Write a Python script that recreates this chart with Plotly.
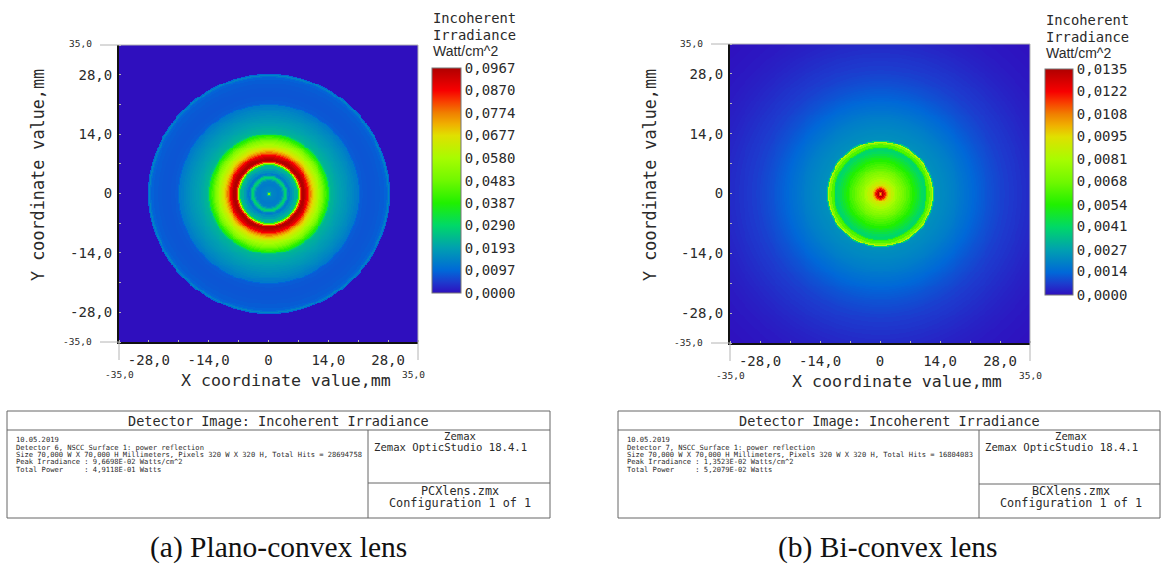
import numpy as np
import plotly.graph_objects as go

# ---- data -----------------------------------------------------------------
# Radial irradiance tables: each value holds out to the listed radius (mm), W/cm^2
PCX_RADIUS = [0.25, 0.5, 0.75, 1.0, 1.5, 2.0, 2.5, 3.0, 3.25, 3.5, 3.75, 4.0, 4.25, 4.5, 4.75, 5.0,
              5.5, 6.0, 6.5, 6.75, 7.0, 7.25, 7.5, 7.75, 8.0, 8.25, 8.5, 8.75, 9.0, 9.25, 9.5, 9.75,
              10.0, 10.25, 10.5, 10.75, 11.0, 11.25, 11.5, 11.75, 12.0, 12.25, 12.5, 12.75, 13.0,
              13.25, 13.5, 13.75, 14.0, 14.25, 14.5, 15.0, 15.5, 16.0, 16.5, 17.0, 17.5, 18.0, 18.5,
              19.0, 19.5, 20.0, 20.5, 21.0, 21.25, 22.0, 23.0, 24.0, 25.0, 26.0, 27.0, 27.5, 27.75,
              28.0, 28.25, 60.0]
PCX_IRRADIANCE = [0.0520, 0.0240, 0.0150, 0.0145, 0.0140, 0.0135, 0.0130, 0.0135, 0.0160, 0.0210,
                  0.0270, 0.0280, 0.0230, 0.0150, 0.0125, 0.0140, 0.0165, 0.0190, 0.0225, 0.0250,
                  0.0420, 0.0610, 0.0820, 0.0930, 0.0965, 0.0967, 0.0950, 0.0930, 0.0900, 0.0870,
                  0.0825, 0.0780, 0.0745, 0.0710, 0.0685, 0.0660, 0.0640, 0.0620, 0.0600, 0.0580,
                  0.0560, 0.0540, 0.0520, 0.0495, 0.0465, 0.0440, 0.0410, 0.0380, 0.0350, 0.0260,
                  0.0235, 0.0225, 0.0215, 0.0207, 0.0199, 0.0192, 0.0185, 0.0178, 0.0171, 0.0163,
                  0.0155, 0.0147, 0.0137, 0.0127, 0.0096, 0.0082, 0.0078, 0.0076, 0.0077, 0.0079,
                  0.0084, 0.0090, 0.0110, 0.0145, 0.0100, 0.0]
BCX_RADIUS = [0.25, 0.5, 0.75, 1.0, 1.25, 1.5, 1.75, 2.0, 2.5, 3.0, 3.5, 4.0, 4.5, 5.0, 5.5, 6.0, 6.5,
              7.0, 7.5, 8.0, 8.5, 9.0, 9.5, 10.0, 10.5, 10.75, 11.0, 11.5, 12.0, 12.25, 12.5, 12.75,
              13.0, 13.5, 14.0, 14.5, 15.0, 15.5, 16.0, 16.5, 17.0, 17.5, 18.0, 18.5, 19.0, 19.5,
              20.0, 20.5, 21.0, 21.5, 22.0, 22.5, 23.0, 23.5, 24.0, 24.5, 25.0, 25.5, 26.0, 26.5,
              27.0, 27.5, 28.0, 29.0, 30.0, 31.0, 32.0, 33.0, 34.0, 35.0, 36.0, 37.0, 38.0, 39.0,
              40.0, 41.0, 43.0, 45.0, 47.0, 60.0]
BCX_IRRADIANCE = [0.0098, 0.0115, 0.0135, 0.0128, 0.0118, 0.0108, 0.0100, 0.0094, 0.0090, 0.0086,
                  0.0082, 0.0078, 0.0075, 0.0072, 0.0069, 0.0066, 0.0063, 0.0060, 0.0057, 0.0054,
                  0.0051, 0.0048, 0.0045, 0.0042, 0.0040, 0.0043, 0.0058, 0.0062, 0.0070, 0.0085,
                  0.0040, 0.0024, 0.0023, 0.00226, 0.00222, 0.00218, 0.00214, 0.0021, 0.00205,
                  0.0020, 0.00195, 0.0019, 0.00185, 0.00178, 0.00172, 0.00166, 0.0016, 0.00154,
                  0.00148, 0.00142, 0.00136, 0.0013, 0.00125, 0.0012, 0.00115, 0.0011, 0.00105,
                  0.0010, 0.00096, 0.00092, 0.00088, 0.00084, 0.0008, 0.00074, 0.00068, 0.00062,
                  0.00057, 0.00052, 0.00047, 0.00042, 0.00037, 0.00033, 0.00029, 0.00025, 0.00022,
                  0.00019, 0.00015, 0.00011, 0.00008, 0.00005]

AXIS_TICKS = [-28, -14, 0, 14, 28]
AXIS_TICK_LABELS = ["-28,0", "-14,0", "0", "14,0", "28,0"]
MINOR_TICKS = [-35, -28, -21, -14, -7, 0, 7, 14, 21, 28, 35]

PCX_CBAR_VALUES = [0.0, 0.0097, 0.0193, 0.0290, 0.0387, 0.0483, 0.0580, 0.0677, 0.0774, 0.0870, 0.0967]
PCX_CBAR_LABELS = ["0,0000", "0,0097", "0,0193", "0,0290", "0,0387", "0,0483",
                   "0,0580", "0,0677", "0,0774", "0,0870", "0,0967"]
BCX_CBAR_VALUES = [0.0, 0.0014, 0.0027, 0.0041, 0.0054, 0.0068, 0.0081, 0.0095, 0.0108, 0.0122, 0.0135]
BCX_CBAR_LABELS = ["0,0000", "0,0014", "0,0027", "0,0041", "0,0054", "0,0068",
                   "0,0081", "0,0095", "0,0108", "0,0122", "0,0135"]

PCX_INFO = ["10.05.2019",
            "Detector 6, NSCC Surface 1: power reflection",
            "Size 70,000 W X 70,000 H Millimeters, Pixels 320 W X 320 H, Total Hits = 28694758",
            "Peak Irradiance : 9,6698E-02 Watts/cm^2",
            "Total Power     : 4,9118E-01 Watts"]
BCX_INFO = ["10.05.2019",
            "Detector 7, NSCC Surface 1: power reflection",
            "Size 70,000 W X 70,000 H Millimeters, Pixels 320 W X 320 H, Total Hits = 16804083",
            "Peak Irradiance : 1,3523E-02 Watts/cm^2",
            "Total Power     : 5,2079E-02 Watts"]

COLORSCALE = [[0, "#2F0FBE"], [0.05, "#1C3CCE"], [0.1, "#0068D8"], [0.2, "#00A0B0"], [0.3, "#00D868"],
              [0.4, "#20F000"], [0.5, "#70F800"], [0.6, "#A8FC00"], [0.7, "#E0E000"], [0.75, "#F0B000"],
              [0.8, "#F08000"], [0.85, "#F84000"], [0.9, "#F80000"], [1, "#B00000"]]

W, H = 1162, 565
MONO = "DejaVu Sans Mono"
INK = "#2a2a2a"
GREY = "#b4b4b4"
LINE = "#666666"


def px(x):
    return x / W


def py(y):
    return 1 - y / H


def field(radii, values):
    centres = (np.arange(320) + 0.5) * 70 / 320 - 35
    xx, yy = np.meshgrid(centres, centres)
    r = np.hypot(xx, yy)
    return centres, np.asarray(values)[np.searchsorted(radii, r)]


fig = go.Figure()
shapes, notes = [], []


def note(x, y, text, size, family=MONO, anchor="left", angle=0, color=INK):
    notes.append(dict(x=px(x), y=py(y), xref="paper", yref="paper", text=text, showarrow=False,
                      xanchor=anchor, yanchor="middle", textangle=angle, align="left",
                      font=dict(family=family, size=size, color=color)))


def seg(x0, y0, x1, y1, color=LINE, width=1):
    shapes.append(dict(type="line", xref="paper", yref="paper", x0=px(x0), y0=py(y0), x1=px(x1), y1=py(y1),
                       line=dict(color=color, width=width)))


def panel(i, box, cbar, radii, values, cvals, clabels):
    l, t, r, b = box
    cl, ct, cw, cb = cbar
    suffix = "" if i == 1 else str(i)
    centres, z = field(radii, values)
    fig.add_trace(go.Heatmap(
        x=centres, y=centres, z=z, zmin=0, zmax=cvals[-1], colorscale=COLORSCALE, zsmooth="best",
        xaxis="x" + suffix, yaxis="y" + suffix, hoverinfo="skip",
        colorbar=dict(x=px(cl), xanchor="left", xpad=0, ypad=0, y=py(cb), yanchor="bottom",
                      len=(cb - ct) / H, lenmode="fraction", thickness=cw, thicknessmode="pixels",
                      outlinecolor="#777777", outlinewidth=1, tickvals=cvals, ticktext=clabels,
                      ticks="", tickfont=dict(family=MONO, size=14, color=INK)),
    ))
    common = dict(range=[-35, 35], tickmode="array", tickvals=AXIS_TICKS, ticktext=AXIS_TICK_LABELS,
                  showgrid=False, zeroline=False, showline=True, linecolor="#111111", linewidth=2,
                  ticks="", tickfont=dict(family=MONO, size=14, color=INK),
                  minor=dict(tickmode="array", tickvals=MINOR_TICKS, ticks="inside", ticklen=2,
                             tickcolor=GREY, tickwidth=1))
    fig.update_layout({
        "xaxis" + suffix: dict(common, domain=[px(l), px(r)], anchor="y" + suffix, ticklabelstandoff=4),
        "yaxis" + suffix: dict(common, domain=[py(b), py(t)], anchor="x" + suffix, ticklabelstandoff=2),
    })
    # corner stubs and frame
    seg(l - 19, t, l, t, GREY)
    seg(l - 19, b, l, b, GREY)
    seg(l, b, l, b + 18, GREY)
    seg(r, b, r, b + 18, GREY)
    seg(l, t, r, t, GREY)
    seg(r, t, r, b, GREY)


def table(x0, x1, xv, yh, title_x, info_x, info, right_xs, file_name):
    y0, y1 = 411, 518
    seg(x0, y0, x1, y0)
    seg(x0, y1, x1, y1)
    seg(x0, y0, x0, y1)
    seg(x1, y0, x1, y1)
    seg(x0, 430, x1, 430)
    seg(xv, 430, xv, y1)
    seg(xv, yh, x1, yh)
    note(title_x, 421, "Detector Image: Incoherent Irradiance", 13.5, anchor="center")
    for text, y in zip(info, [439.5, 447, 454, 461.5, 469]):
        note(info_x, y, text.replace(" ", "&nbsp;"), 7.1)
    note(right_xs[0], 436, "Zemax", 10.6, anchor="center")
    note(right_xs[1], 447, "Zemax OpticStudio 18.4.1", 10.6, anchor="center")
    note(right_xs[0], 491, file_name, 11.8, anchor="center")
    note(right_xs[0], 502.5, "Configuration 1 of 1", 11.8, anchor="center")


panel(1, (119, 45, 418, 342), (432, 68, 29, 293), PCX_RADIUS, PCX_IRRADIANCE, PCX_CBAR_VALUES, PCX_CBAR_LABELS)
panel(2, (730, 44, 1030, 343), (1045, 69, 28, 295), BCX_RADIUS, BCX_IRRADIANCE, BCX_CBAR_VALUES, BCX_CBAR_LABELS)

note(431, 18, "Incoherent", 13.8)
note(431, 35, "Irradiance", 13.8)
note(431, 51, "Watt/cm^2", 14, family="Liberation Sans")
note(1044, 20, "Incoherent", 13.8)
note(1044, 37, "Irradiance", 13.8)
note(1044, 53, "Watt/cm^2", 14, family="Liberation Sans")

note(38, 175, "Y coordinate value,mm", 16.8, anchor="center", angle=-90)
note(650, 175, "Y coordinate value,mm", 16.8, anchor="center", angle=-90)
note(179, 380, "X coordinate value,mm", 16.6)
note(790, 381, "X coordinate value,mm", 16.6)

note(94, 44, "35,0", 9.5, anchor="right")
note(94, 341, "-35,0", 9.5, anchor="right")
note(119, 374, "-35,0", 9.5, anchor="center")
note(413, 374, "35,0", 9.5, anchor="center")
note(705, 44, "35,0", 9.5, anchor="right")
note(705, 342, "-35,0", 9.5, anchor="right")
note(730, 375, "-35,0", 9.5, anchor="center")
note(1030, 375, "35,0", 9.5, anchor="center")

table(7, 550, 368, 483, 278, 14, PCX_INFO, (460, 450), "PCXlens.zmx")
table(618, 1160, 979, 484, 889, 625, BCX_INFO, (1071, 1061), "BCXlens.zmx")

note(278, 547.5, "(a) Plano-convex lens", 29.5, family="Liberation Serif", anchor="center", color="#111111")
note(888, 547.5, "(b) Bi-convex lens", 29.5, family="Liberation Serif", anchor="center", color="#111111")

fig.update_layout(width=W, height=H, margin=dict(l=0, r=0, t=0, b=0), autosize=False,
                  paper_bgcolor="white", plot_bgcolor="white", showlegend=False,
                  shapes=shapes, annotations=notes)

fig.write_html("out.html", config=dict(displayModeBar=False),
               post_script="document.body.style.margin='0';document.documentElement.style.overflow='hidden';")
